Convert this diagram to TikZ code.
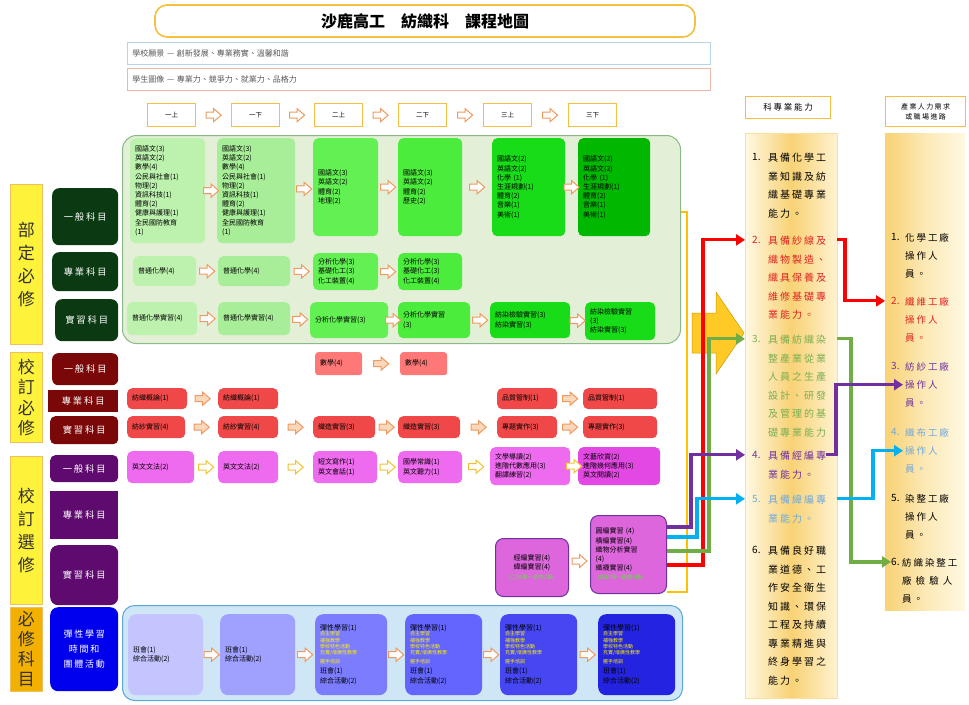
\documentclass[tikz,border=0pt]{standalone}
\usepackage{fontspec}
\setmainfont{Noto Sans CJK TC}
\newfontfamily\spfont[LetterSpace=20]{Noto Sans CJK TC}
\usetikzlibrary{calc,arrows.meta}
\definecolor{ttlBd}{HTML}{F5C040}
\definecolor{visBd}{HTML}{B8D4EC}
\definecolor{imgBd}{HTML}{EBB8A8}
\definecolor{gCont}{HTML}{E4EFD8}
\definecolor{gContBd}{HTML}{88BB88}
\definecolor{gA}{HTML}{BDF2AE}
\definecolor{gB}{HTML}{A8EE98}
\definecolor{gC}{HTML}{62F052}
\definecolor{gD}{HTML}{4CEC3C}
\definecolor{gE}{HTML}{18DC18}
\definecolor{gF}{HTML}{00B800}
\definecolor{rLt}{HTML}{FF7878}
\definecolor{rMd}{HTML}{F04848}
\definecolor{mA}{HTML}{EE6AEE}
\definecolor{mB}{HTML}{E448E4}
\definecolor{mP}{HTML}{DD66DD}
\definecolor{mPBd}{HTML}{7030A0}
\definecolor{bCont}{HTML}{CFE6F7}
\definecolor{bContBd}{HTML}{5BA8D4}
\definecolor{bA}{HTML}{C4C4FF}
\definecolor{bB}{HTML}{A0A0FF}
\definecolor{bC}{HTML}{7C7CFF}
\definecolor{bD}{HTML}{6464FF}
\definecolor{bE}{HTML}{4646F2}
\definecolor{bF}{HTML}{2424E0}
\definecolor{kGreen}{HTML}{0B3A12}
\definecolor{kRed}{HTML}{7A0808}
\definecolor{kPur}{HTML}{5E0A6E}
\definecolor{kBlue}{HTML}{0000EE}
\definecolor{labY}{HTML}{FFF23A}
\definecolor{labO}{HTML}{F2B000}
\definecolor{labBd}{HTML}{F0C060}
\definecolor{arrO}{HTML}{EE9A60}
\definecolor{arrY}{HTML}{F2C230}
\definecolor{arrF}{HTML}{FBD8BC}
\definecolor{abL}{HTML}{FFF8E2}
\definecolor{abM}{HTML}{F8D274}
\definecolor{abR}{HTML}{FFF3D2}
\definecolor{cRed}{HTML}{FF0000}
\definecolor{cGreen}{HTML}{70AD47}
\definecolor{cPur}{HTML}{7030A0}
\definecolor{cBlue}{HTML}{00B0F0}
\definecolor{cOr}{HTML}{FFC000}
\definecolor{tRed}{HTML}{E02020}
\definecolor{tGreen}{HTML}{7AAE50}
\definecolor{tPur}{HTML}{7030A0}
\definecolor{tBlue}{HTML}{6FA8DC}
\definecolor{noteG}{HTML}{66DD44}
\newcommand{\csz}{\fontsize{7}{9.2}\selectfont}
\newcommand{\ysz}{\fontsize{5}{6.2}\selectfont\color{yellow}}
\newcommand{\lfont}{\spfont\fontsize{9.3}{12}\selectfont}
\newcommand{\vfont}{\fontsize{17}{23}\selectfont}
\newcommand{\abfont}{\spfont\fontsize{10}{18.5}\selectfont}
\newcommand{\crfont}{\spfont\fontsize{9.5}{18}\selectfont}
\tikzset{
  sarr/.pic={\draw[line width=1pt, pic actions] (-7.5,-3)--(0,-3)--(0,-6.5)--(7.5,0)--(0,6.5)--(0,3)--(-7.5,3)--cycle;},
  cbox/.style={rounded corners=5pt, inner xsep=5pt, inner ysep=2pt, align=left, font=\csz, anchor=north west},
  wlab/.style={anchor=north west, inner sep=0pt, font=\lfont, text=white, align=center},
  ylab/.style={anchor=north west, inner sep=0pt, font=\vfont, text=black!80, align=center, draw=labBd, line width=0.8pt},
  sem/.style={anchor=north west, draw=ttlBd, line width=1.3pt, fill=white, minimum width=48pt, minimum height=23pt, font=\fontsize{6.5}{8}\selectfont, inner sep=0pt},
  abn/.style={anchor=north west, inner sep=0pt, font=\fontsize{10}{18.5}\selectfont},
  abt/.style={anchor=north west, inner sep=0pt, align=left, font=\abfont},
  crt/.style={anchor=north west, inner sep=0pt, align=left, font=\crfont},
  cl/.style={line width=3.2pt},
  tip/.style={-{Triangle[length=9pt,width=11pt]}},
}
\begin{document}
\begin{tikzpicture}[x=1pt,y=-1pt]
\useasboundingbox (0,0) rectangle (969,704);
\fill[white] (0,0) rectangle (969,704);

% header
\node[draw=ttlBd, line width=1.6pt, rounded corners=12pt, fill=white, minimum width=540pt, minimum height=32pt, font=\fontsize{16}{18}\selectfont\bfseries] (title) at (425,21) {沙鹿高工\quad 紡織科\quad 課程地圖};
\node[anchor=north west, draw=visBd, line width=0.8pt, minimum height=22pt, text width=573pt, inner xsep=5pt, align=left, font=\fontsize{8}{10}\selectfont, text=black!65] (vis) at (127,42) {學校願景 — 創新發展、專業務實、溫馨和諧};
\node[anchor=north west, draw=imgBd, line width=0.8pt, minimum height=22pt, text width=573pt, inner xsep=5pt, align=left, font=\fontsize{8}{10}\selectfont, text=black!65] (img) at (127,68) {學生圖像 — 專業力、競爭力、就業力、品格力};

\node[sem] (s1) at (147,103) {一上};
\node[sem] (s2) at (231,103) {一下};
\node[sem] (s3) at (314,103) {二上};
\node[sem] (s4) at (398,103) {二下};
\node[sem] (s5) at (483,103) {三上};
\node[sem] (s6) at (568,103) {三下};
\foreach \a/\b in {s1/s2,s2/s3,s3/s4,s4/s5,s5/s6}
  \pic[draw=arrO, fill=white] at ($(\a.east)!.5!(\b.west)$) {sarr};

% left labels
\node[ylab, fill=labY, minimum width=32pt, minimum height=160pt] (lab1) at (10,184) {部\\定\\必\\修};
\node[ylab, fill=labY, minimum width=32pt, minimum height=90pt, font=\fontsize{17}{20.5}\selectfont] (lab2) at (10,352) {校\\訂\\必\\修};
\node[ylab, fill=labY, minimum width=32pt, minimum height=148pt] (lab3) at (10,456) {校\\訂\\選\\修};
\node[ylab, fill=labO, minimum width=32pt, minimum height=84pt, font=\fontsize{17}{20}\selectfont] (lab4) at (10,607) {必\\修\\科\\目};

\node[wlab, fill=kGreen, rounded corners=7pt, minimum width=66pt, minimum height=57pt] (k1) at (52,188) {一般科目};
\node[wlab, fill=kGreen, rounded corners=7pt, minimum width=66pt, minimum height=39pt] (k2) at (52,252) {專業科目};
\node[wlab, fill=kGreen, rounded corners=7pt, minimum width=63pt, minimum height=42pt] (k3) at (55,299) {實習科目};
\node[wlab, fill=kRed, rounded corners=6pt, minimum width=66pt, minimum height=32pt] (k4) at (52,353) {一般科目};
\node[wlab, fill=kRed, minimum width=70pt, minimum height=22pt] (k5) at (48,390) {專業科目};
\node[wlab, fill=kRed, rounded corners=5pt, minimum width=68pt, minimum height=28pt] (k6) at (50,416) {實習科目};
\node[wlab, fill=kPur, rounded corners=5pt, minimum width=68pt, minimum height=27pt] (k7) at (50,455) {一般科目};
\node[wlab, fill=kPur, minimum width=68pt, minimum height=48pt] (k8) at (50,491) {專業科目};
\node[wlab, fill=kPur, rounded corners=8pt, minimum width=68pt, minimum height=60pt] (k9) at (50,545) {實習科目};
\node[wlab, fill=kBlue, rounded corners=8pt, minimum width=68pt, minimum height=84pt, font=\spfont\fontsize{9}{15}\selectfont] (k10) at (50,607) {彈性學習\\時間和\\團體活動};

% green container
\node[anchor=north west, draw=gContBd, fill=gCont, line width=1pt, rounded corners=14pt, minimum width=558pt, minimum height=208pt] (gcont) at (122,135) {};

\node[cbox, fill=gA, text width=65pt, minimum height=105pt] (ga1) at (130,138) {國語文(3)\\英語文(2)\\數學(4)\\公民與社會(1)\\物理(2)\\資訊科技(1)\\體育(2)\\健康與護理(1)\\全民國防教育\\(1)};
\node[cbox, fill=gB, text width=68pt, minimum height=105pt] (ga2) at (217,138) {國語文(3)\\英語文(2)\\數學(4)\\公民與社會(1)\\物理(2)\\資訊科技(1)\\體育(2)\\健康與護理(1)\\全民國防教育\\(1)};
\node[cbox, fill=gC, text width=55pt, minimum height=98pt] (ga3) at (313,138) {國語文(3)\\英語文(2)\\體育(2)\\地理(2)};
\node[cbox, fill=gD, text width=54pt, minimum height=98pt] (ga4) at (398,138) {國語文(3)\\英語文(2)\\體育(2)\\歷史(2)};
\node[cbox, fill=gE, text width=63pt, minimum height=98pt] (ga5) at (492,138) {國語文(2)\\英語文(2)\\化學 (1)\\生涯規劃(1)\\體育(2)\\音樂(1)\\美術(1)};
\node[cbox, fill=gF, text width=62pt, minimum height=98pt] (ga6) at (578,138) {國語文(2)\\英語文(2)\\化學 (1)\\生涯規劃(1)\\體育(2)\\音樂(1)\\美術(1)};
\foreach \a/\b in {ga1/ga2,ga2/ga3,ga3/ga4,ga4/ga5,ga5/ga6}
  \pic[draw=arrO, fill=white] at ($(\a.east)!.5!(\b.west)$) {sarr};

\node[cbox, fill=gA, text width=53pt, minimum height=30pt] (pa1) at (133,256) {普通化學(4)};
\node[cbox, fill=gB, text width=62pt, minimum height=30pt] (pa2) at (218,256) {普通化學(4)};
\node[cbox, fill=gC, text width=55pt, minimum height=37pt] (pa3) at (313,253) {分析化學(3)\\基礎化工(3)\\化工裝置(4)};
\node[cbox, fill=gD, text width=54pt, minimum height=37pt] (pa4) at (398,253) {分析化學(3)\\基礎化工(3)\\化工裝置(4)};
\foreach \a/\b in {pa1/pa2,pa2/pa3,pa3/pa4}
  \pic[draw=arrO, fill=white] at ($(\a.east)!.5!(\b.west)$) {sarr};

\node[cbox, fill=gA, text width=60pt, minimum height=33pt] (ra1) at (127,302) {普通化學實習(4)};
\node[cbox, fill=gB, text width=62pt, minimum height=33pt] (ra2) at (218,302) {普通化學實習(4)};
\node[cbox, fill=gC, text width=68pt, minimum height=36pt] (ra3) at (310,302) {分析化學實習(3)};
\node[cbox, fill=gD, text width=62pt, minimum height=36pt] (ra4) at (398,302) {分析化學實習\\(3)};
\node[cbox, fill=gE, text width=70pt, minimum height=36pt] (ra5) at (490,302) {紡染檢驗實習(3)\\紡染實習(3)};
\node[cbox, fill=gE, text width=60pt, minimum height=38pt] (ra6) at (585,302) {紡染檢驗實習\\(3)\\紡染實習(3)};
\foreach \a/\b in {ra1/ra2,ra2/ra3,ra3/ra4,ra4/ra5,ra5/ra6}
  \pic[draw=arrO, fill=white] at ($(\a.east)!.5!(\b.west)$) {sarr};

% school required
\node[cbox, fill=rLt, rounded corners=3pt, text width=37pt, minimum height=23pt] (mg3) at (315,352) {數學(4)};
\node[cbox, fill=rLt, rounded corners=3pt, text width=37pt, minimum height=23pt] (mg4) at (400,352) {數學(4)};
\pic[draw=arrO, fill=arrF] at ($(mg3.east)!.5!(mg4.west)$) {sarr};

\node[cbox, fill=rMd, text width=50pt, minimum height=21pt] (mp1) at (127,388) {紡織概論(1)};
\node[cbox, fill=rMd, text width=50pt, minimum height=21pt] (mp2) at (218,388) {紡織概論(1)};
\node[cbox, fill=rMd, text width=50pt, minimum height=21pt] (mp5) at (497,388) {品質管制(1)};
\node[cbox, fill=rMd, text width=64pt, minimum height=21pt] (mp6) at (583,388) {品質管制(1)};
\pic[draw=arrO, fill=arrF] at ($(mp1.east)!.5!(mp2.west)$) {sarr};
\pic[draw=arrO, fill=arrF] at ($(mp5.east)!.5!(mp6.west)$) {sarr};

\node[cbox, fill=rMd, text width=48pt, minimum height=22pt] (mr1) at (127,416) {紡紗實習(4)};
\node[cbox, fill=rMd, text width=50pt, minimum height=22pt] (mr2) at (218,416) {紡紗實習(4)};
\node[cbox, fill=rMd, text width=52pt, minimum height=22pt] (mr3) at (313,416) {織造實習(3)};
\node[cbox, fill=rMd, text width=52pt, minimum height=22pt] (mr4) at (398,416) {織造實習(3)};
\node[cbox, fill=rMd, text width=50pt, minimum height=22pt] (mr5) at (497,416) {專題實作(3)};
\node[cbox, fill=rMd, text width=64pt, minimum height=22pt] (mr6) at (583,416) {專題實作(3)};
\foreach \a/\b in {mr1/mr2,mr2/mr3,mr3/mr4,mr4/mr5,mr5/mr6}
  \pic[draw=arrO, fill=arrF] at ($(\a.east)!.5!(\b.west)$) {sarr};

% elective
\node[cbox, fill=mA, text width=57pt, minimum height=32pt] (eg1) at (127,451) {英文文法(2)};
\node[cbox, fill=mA, text width=50pt, minimum height=32pt] (eg2) at (218,451) {英文文法(2)};
\node[cbox, fill=mA, text width=54pt, minimum height=32pt] (eg3) at (313,451) {短文寫作(1)\\英文會話(1)};
\node[cbox, fill=mA, text width=54pt, minimum height=32pt] (eg4) at (398,451) {國學常識(1)\\英文聽力(1)};
\node[cbox, fill=mA, text width=70pt, minimum height=38pt] (eg5) at (490,447) {文學導讀(2)\\進階代數應用(3)\\翻譯練習(2)};
\node[cbox, fill=mB, text width=72pt, minimum height=38pt] (eg6) at (578,447) {文藝欣賞(2)\\進階幾何應用(3)\\英文閱讀(2)};
\foreach \a/\b in {eg1/eg2,eg2/eg3,eg3/eg4,eg4/eg5,eg5/eg6}
  \pic[draw=arrY, fill=white] at ($(\a.east)!.5!(\b.west)$) {sarr};

\node[cbox, fill=mP, draw=mPBd, line width=1pt, rounded corners=8pt, text width=63pt, minimum height=58pt, align=center] (ep5) at (495,538) {經編實習(4)\\緯編實習(4)\\{\fontsize{5.5}{7}\selectfont\color{noteG}(二科擇一選修2節)}};
\node[cbox, fill=mP, draw=mPBd, line width=1pt, rounded corners=8pt, text width=66pt, minimum height=78pt] (ep6) at (590,515) {圓編實習 (4)\\橫編實習(4)\\織物分析實習\\(4)\\織襪實習(4)\\{\fontsize{5.5}{7}\selectfont\color{noteG}\ (四科擇一選修4節)}};
\pic[draw=arrO, fill=white] at ($(ep5.east)!.5!(ep6.west)$) {sarr};

% bottom blue
\node[anchor=north west, draw=bContBd, fill=bCont, line width=1pt, rounded corners=12pt, minimum width=560pt, minimum height=95pt] (bcont) at (122,605) {};
\node[cbox, fill=bA, rounded corners=8pt, text width=65pt, minimum height=81pt] (b1) at (128,614) {班會(1)\\綜合活動(2)};
\node[cbox, fill=bB, rounded corners=8pt, text width=65pt, minimum height=81pt] (b2) at (220,614) {班會(1)\\綜合活動(2)};
\node[cbox, fill=bC, rounded corners=8pt, text width=62pt, minimum height=81pt] (b3) at (315,614) {彈性學習(1)\\[-1pt]{\ysz 自主學習\\補強教學\\學校特色活動\\充實/增廣性教學\\選手培訓}\\[1pt]班會(1)\\綜合活動(2)};
\node[cbox, fill=bD, rounded corners=8pt, text width=67pt, minimum height=81pt] (b4) at (405,614) {彈性學習(1)\\[-1pt]{\ysz 自主學習\\補強教學\\學校特色活動\\充實/增廣性教學\\選手培訓}\\[1pt]班會(1)\\綜合活動(2)};
\node[cbox, fill=bE, rounded corners=8pt, text width=67pt, minimum height=81pt] (b5) at (500,614) {彈性學習(1)\\[-1pt]{\ysz 自主學習\\補強教學\\學校特色活動\\充實/增廣性教學\\選手培訓}\\[1pt]班會(1)\\綜合活動(2)};
\node[cbox, fill=bF, rounded corners=8pt, text width=67pt, minimum height=81pt] (b6) at (598,614) {彈性學習(1)\\[-1pt]{\ysz 自主學習\\補強教學\\學校特色活動\\充實/增廣性教學\\選手培訓}\\[1pt]班會(1)\\綜合活動(2)};
\foreach \a/\b in {b1/b2,b2/b3,b3/b4,b4/b5,b5/b6}
  \pic[draw=arrO, fill=white] at ($(\a.east)!.5!(\b.west)$) {sarr};

% right columns
\node[anchor=north west, draw=ttlBd, line width=1.2pt, fill=white, minimum width=85pt, minimum height=22pt, font=\spfont\fontsize{8.5}{10}\selectfont] (h1) at (745,96) {科專業能力};
\node[anchor=north west, left color=abL, right color=abR, middle color=abM, draw=abM!70!white, minimum width=92pt, minimum height=565pt, inner sep=0pt] (abilcol) at (745,133) {};
\node[anchor=north west, draw=ttlBd, line width=1.2pt, fill=white, minimum width=80pt, minimum height=30pt, align=center, font=\spfont\fontsize{7}{10}\selectfont] (h2) at (885,96) {產業人力需求\\或職場進路};
\node[anchor=north west, left color=abM, right color=abL, middle color=abM!40!abL, minimum width=80pt, minimum height=477pt, inner sep=0pt] (carcol) at (885,133) {};

\node[abn] (ab1n) at (752,153) {1.};
\node[abt] (ab1) at (768,153) {具備化學工\\業知識及紡\\織基礎專業\\能力。};
\node[abn, text=tRed] (ab2n) at (752,236) {2.};
\node[abt, text=tRed] (ab2) at (768,236) {具備紗線及\\織物製造、\\織具保養及\\維修基礎專\\業能力。};
\node[abn, text=tGreen] (ab3n) at (752,335) {3.};
\node[abt, text=tGreen] (ab3) at (768,335) {具備紡織染\\整產業從業\\人員之生產\\設計、研發\\及管理的基\\礎專業能力};
\node[abn, text=tPur] (ab4n) at (752,451) {4.};
\node[abt, text=tPur] (ab4) at (768,451) {具備經編專\\業能力。};
\node[abn, text=tBlue] (ab5n) at (752,495) {5.};
\node[abt, text=tBlue] (ab5) at (768,495) {具備緯編專\\業能力。};
\node[abn] (ab6n) at (752,546) {6.};
\node[abt] (ab6) at (768,546) {具備良好職\\業道德、工\\作安全衛生\\知識、環保\\工程及持續\\專業精進與\\終身學習之\\能力。};

\node[abn] (cr1n) at (891,233) {1.};
\node[crt] (cr1) at (905,233) {化學工廠\\操作人\\員。};
\node[abn, text=tRed] (cr2n) at (891,297) {2.};
\node[crt, text=tRed] (cr2) at (905,297) {纖維工廠\\操作人\\員。};
\node[abn, text=tPur] (cr3n) at (891,362) {3.};
\node[crt, text=tPur] (cr3) at (905,362) {紡紗工廠\\操作人\\員。};
\node[abn, text=tBlue] (cr4n) at (891,428) {4.};
\node[crt, text=tBlue] (cr4) at (905,428) {織布工廠\\操作人\\員。};
\node[abn] (cr5n) at (891,494) {5.};
\node[crt] (cr5) at (905,494) {染整工廠\\操作人\\員。};
\node[abn] (cr6n) at (891,558) {6.};
\node[crt] (cr6) at (902,558) {紡織染整工\\廠 檢 驗 人\\員。};

% orange bracket and block arrow
\coordinate (o1) at (687,212);
\coordinate (o2) at (687,592);
\draw[line width=2.6pt, draw=cOr] (gcont.east |- o1) -- (o1) -- (o2) -- (ep6.east |- o2);
\draw[fill=cOr!85!white, draw=cOr!80!black, line width=0.5pt] (692,313) -- (716,313) -- (716,292) -- (744,333) -- (716,374) -- (716,353) -- (692,353) -- cycle;

% colored connectors
\coordinate (pA) at (691,527);
\coordinate (uA) at (697,537);
\coordinate (gA) at (709,551);
\coordinate (rA) at (703,565);
\draw[cl, draw=cRed, tip] (ep6.east |- rA) -- (rA) |- (abilcol.west |- ab2n);
\draw[cl, draw=cGreen, tip] (ep6.east |- gA) -- (gA) |- (abilcol.west |- ab3n);
\draw[cl, draw=cPur, tip] (ep6.east |- pA) -- (pA) |- (abilcol.west |- ab4n);
\draw[cl, draw=cBlue, tip] (ep6.east |- uA) -- (uA) |- (abilcol.west |- ab5n);

\coordinate (rB) at (845,0);
\coordinate (gB) at (851,0);
\coordinate (pB) at (836,0);
\coordinate (uB) at (873,0);
\draw[cl, draw=cRed, tip] (abilcol.east |- ab2n) -| (rB |- cr2n) -- (carcol.west |- cr2n);
\draw[cl, draw=cGreen, tip] (abilcol.east |- ab3n) -| (gB |- cr6n) -- ([xshift=6pt]carcol.west |- cr6n);
\draw[cl, draw=cPur, tip] (ab4.east |- ab4n) -| (pB |- cr3) -- ([xshift=18pt]carcol.west |- cr3);
\draw[cl, draw=cBlue, tip] (abilcol.east |- ab5n) -| (uB |- cr4) -- ([xshift=18pt]carcol.west |- cr4);
\end{tikzpicture}
\end{document}
